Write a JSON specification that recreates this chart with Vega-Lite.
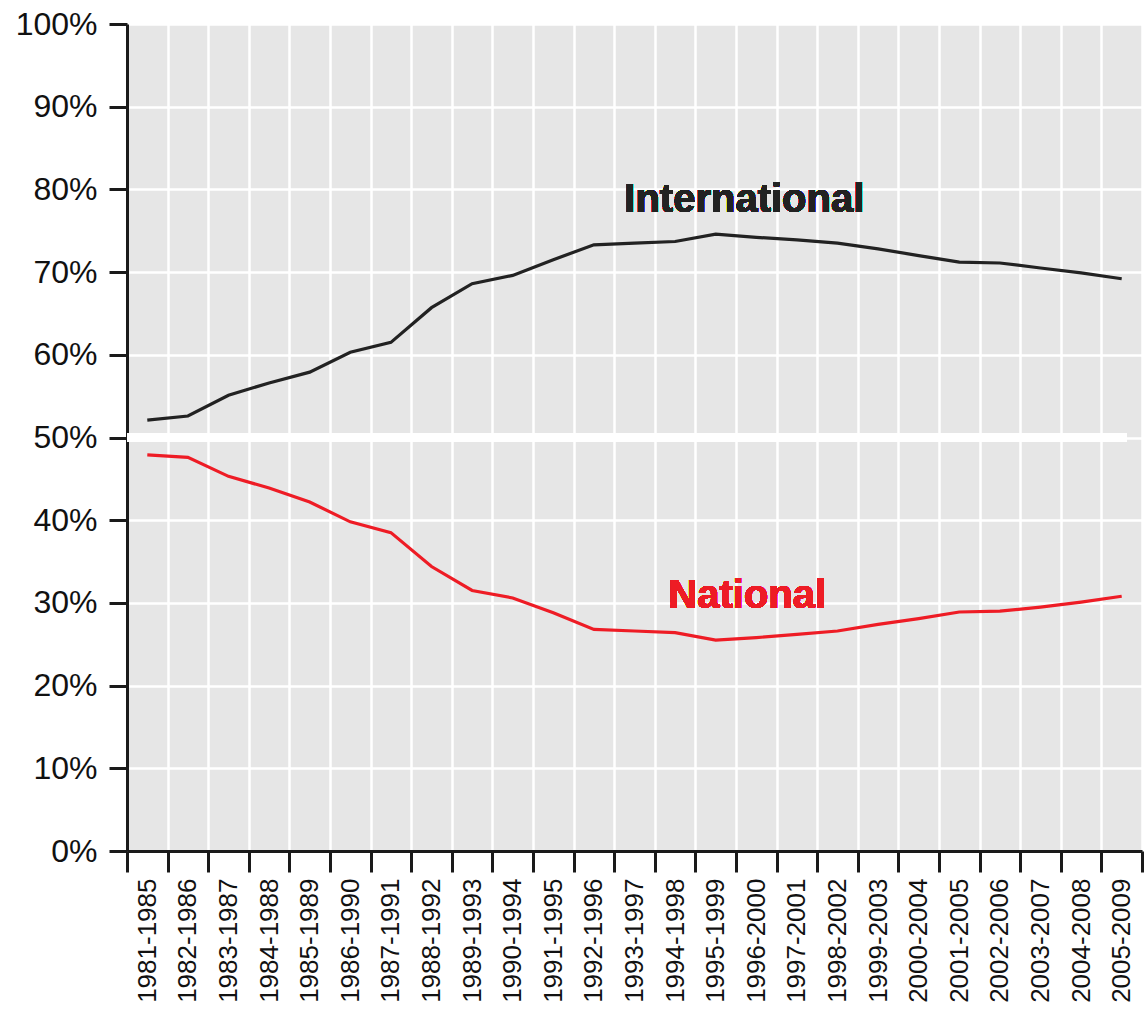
{
  "$schema": "https://vega.github.io/schema/vega-lite/v6.json",
  "autosize": "none",
  "width": 1015,
  "height": 827,
  "padding": {"left": 127, "top": 24, "right": 3, "bottom": 158},
  "background": "white",
  "config": {
    "view": {"fill": "#e6e6e6", "stroke": null},
    "font": "Liberation Sans"
  },
  "datasets": {
    "shares": [
      {"period": "1981-1985", "series": "International", "value": 52.1},
      {"period": "1982-1986", "series": "International", "value": 52.6},
      {"period": "1983-1987", "series": "International", "value": 55.1},
      {"period": "1984-1988", "series": "International", "value": 56.6},
      {"period": "1985-1989", "series": "International", "value": 57.9},
      {"period": "1986-1990", "series": "International", "value": 60.3},
      {"period": "1987-1991", "series": "International", "value": 61.5},
      {"period": "1988-1992", "series": "International", "value": 65.7},
      {"period": "1989-1993", "series": "International", "value": 68.6},
      {"period": "1990-1994", "series": "International", "value": 69.6},
      {"period": "1991-1995", "series": "International", "value": 71.5},
      {"period": "1992-1996", "series": "International", "value": 73.3},
      {"period": "1993-1997", "series": "International", "value": 73.5},
      {"period": "1994-1998", "series": "International", "value": 73.7},
      {"period": "1995-1999", "series": "International", "value": 74.6},
      {"period": "1996-2000", "series": "International", "value": 74.2},
      {"period": "1997-2001", "series": "International", "value": 73.9},
      {"period": "1998-2002", "series": "International", "value": 73.5},
      {"period": "1999-2003", "series": "International", "value": 72.8},
      {"period": "2000-2004", "series": "International", "value": 72.0},
      {"period": "2001-2005", "series": "International", "value": 71.2},
      {"period": "2002-2006", "series": "International", "value": 71.1},
      {"period": "2003-2007", "series": "International", "value": 70.5},
      {"period": "2004-2008", "series": "International", "value": 69.9},
      {"period": "2005-2009", "series": "International", "value": 69.2},
      {"period": "1981-1985", "series": "National", "value": 47.9},
      {"period": "1982-1986", "series": "National", "value": 47.6},
      {"period": "1983-1987", "series": "National", "value": 45.3},
      {"period": "1984-1988", "series": "National", "value": 43.9},
      {"period": "1985-1989", "series": "National", "value": 42.2},
      {"period": "1986-1990", "series": "National", "value": 39.8},
      {"period": "1987-1991", "series": "National", "value": 38.5},
      {"period": "1988-1992", "series": "National", "value": 34.4},
      {"period": "1989-1993", "series": "National", "value": 31.5},
      {"period": "1990-1994", "series": "National", "value": 30.6},
      {"period": "1991-1995", "series": "National", "value": 28.8},
      {"period": "1992-1996", "series": "National", "value": 26.8},
      {"period": "1993-1997", "series": "National", "value": 26.6},
      {"period": "1994-1998", "series": "National", "value": 26.4},
      {"period": "1995-1999", "series": "National", "value": 25.5},
      {"period": "1996-2000", "series": "National", "value": 25.8},
      {"period": "1997-2001", "series": "National", "value": 26.2},
      {"period": "1998-2002", "series": "National", "value": 26.6},
      {"period": "1999-2003", "series": "National", "value": 27.4},
      {"period": "2000-2004", "series": "National", "value": 28.1},
      {"period": "2001-2005", "series": "National", "value": 28.9},
      {"period": "2002-2006", "series": "National", "value": 29.0},
      {"period": "2003-2007", "series": "National", "value": 29.5},
      {"period": "2004-2008", "series": "National", "value": 30.1},
      {"period": "2005-2009", "series": "National", "value": 30.8}
    ]
  },
  "data": {"name": "shares"},
  "encoding": {
    "x": {
      "field": "period",
      "type": "ordinal",
      "bandPosition": 0.5,
      "scale": {"type": "band", "paddingInner": 0, "paddingOuter": 0},
      "axis": {
        "title": null,
        "tickBand": "extent",
        "labelAngle": -90,
        "labelFontSize": 26,
        "labelColor": "#111111",
        "labelPadding": 6,
        "tickSize": 21,
        "tickWidth": 3,
        "tickColor": "#1a1a1a",
        "domainColor": "#1a1a1a",
        "domainWidth": 3,
        "grid": true,
        "gridColor": "white",
        "gridWidth": 2.5,
        "gridOpacity": 1,
        "labelOverlap": false
      }
    },
    "y": {
      "field": "value",
      "type": "quantitative",
      "scale": {"domain": [0, 100], "nice": false},
      "axis": {
        "title": null,
        "values": [0, 10, 20, 30, 40, 50, 60, 70, 80, 90, 100],
        "labelExpr": "datum.value + '%'",
        "labelFontSize": 32,
        "labelColor": "#111111",
        "labelPadding": 12,
        "tickSize": 18,
        "tickWidth": 3,
        "tickColor": "#1a1a1a",
        "domainColor": "#1a1a1a",
        "domainWidth": 3,
        "grid": true,
        "gridColor": "white",
        "gridWidth": 2.5,
        "gridOpacity": 1
      }
    }
  },
  "layer": [
    {
      "mark": {"type": "rule", "color": "white", "strokeWidth": 9},
      "encoding": {"x": {"value": 0}, "x2": {"value": 1000}, "y": {"datum": 50}}
    },
    {
      "mark": {"type": "line", "strokeWidth": 3.2},
      "encoding": {
        "color": {
          "field": "series",
          "type": "nominal",
          "scale": {"domain": ["International", "National"], "range": ["#222222", "#ee1c25"]},
          "legend": null
        }
      }
    },
    {
      "mark": {"type": "text", "text": "International", "fontSize": 40, "fontWeight": "bold", "color": "#222222", "align": "center", "baseline": "middle", "dx": -12},
      "encoding": {"x": {"datum": "1996-2000", "bandPosition": 0.5}, "y": {"datum": 78.7}}
    },
    {
      "mark": {"type": "text", "text": "National", "fontSize": 40, "fontWeight": "bold", "color": "#ee1c25", "align": "center", "baseline": "middle", "dx": -9},
      "encoding": {"x": {"datum": "1996-2000", "bandPosition": 0.5}, "y": {"datum": 30.8}}
    }
  ]
}
